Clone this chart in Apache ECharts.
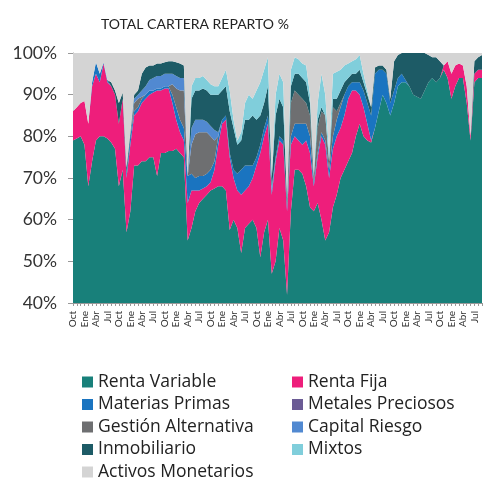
<!DOCTYPE html>
<html>
<head>
<meta charset="utf-8">
<title>TOTAL CARTERA REPARTO %</title>
<script src="https://cdn.jsdelivr.net/npm/echarts@6/dist/echarts.min.js"></script>
<style>
  html, body { margin: 0; padding: 0; background: #fff; }
  #chart { width: 483px; height: 480px; }
</style>
</head>
<body>
<div id="chart"></div>
<script>
// meses (etiqueta cada 3 meses: Oct, Ene, Abr, Jul)
var monthNames = ["Oct", "Nov", "Dic", "Ene", "Feb", "Mar", "Abr", "May", "Jun", "Jul", "Ago", "Sep"];
var years = 9;

var rentaVariable = [79, 79.5, 80, 78, 68, 74, 79, 80, 80, 79.5, 78.5, 77, 68, 72, 57, 62, 73, 73, 74, 74, 75, 75, 70.5, 76, 76, 76.5, 76.5, 77, 76, 75, 55, 58, 62, 64, 65, 66, 67, 67.5, 68, 68, 67, 57.5, 60, 58, 52, 58, 59, 60, 58, 51, 57, 60, 47, 50, 58, 55, 42, 62, 72, 72, 71, 68, 63, 62, 64, 60, 55, 57, 63, 66, 70, 72, 74, 76, 80, 83, 80, 79, 78.5, 82, 86, 90, 88, 85, 88, 92, 93, 93, 92, 90, 89.5, 89, 91, 93, 94, 93, 94, 96, 94, 89, 92, 94, 94, 88, 79, 93, 94, 94];
var rentaFija = [7, 7.5, 8, 10.5, 15, 18, 16, 13, 17.5, 13.5, 13.5, 13, 15, 17, 13, 16, 12, 13, 14, 15, 15, 15.5, 20.5, 15, 15.5, 15, 11.5, 7, 5, 4, 9, 9, 5, 3, 2.5, 2, 2, 4.5, 10, 15, 17, 17.5, 10, 9, 14, 9, 9, 10, 15, 25, 23, 23, 19, 24, 21, 23, 20, 16, 8, 7, 7, 11, 13, 6, 11, 20, 23, 13, 14, 14, 12, 13, 15, 15, 11, 7, 7, 4, 0.5, 0, 0, 0, 0, 0, 0, 0, 0, 0, 0, 0, 0, 0, 0, 0, 0, 0, 0, 1, 4, 6, 5, 3.5, 3, 4, 1, 2, 2, 2];
var materiasPrimas = [0, 0, 0, 0, 0, 1, 2.8, 2, 0.2, 0.5, 0, 0, 0, 0, 1, 2, 1, 1, 1, 1, 1, 0.5, 0.5, 0.5, 0.5, 0.5, 2, 3, 3, 3, 6.5, 4, 3, 3.5, 3, 3, 3, 2, 2, 1, 1, 1, 2, 4, 6, 6, 5, 3, 2, 2, 2, 2, 1, 1, 1, 1, 1, 2, 3, 4, 5, 4, 4, 1, 1, 1, 1, 2, 3, 4, 5, 5, 3, 2, 2, 3, 4, 5, 6, 13, 10, 6, 7, 3, 3, 2, 2, 0.5, 0, 0, 0, 0, 0, 0, 0, 0, 0, 0, 0, 0, 0, 0, 0, 0, 0, 0, 0, 0];
var metalesPreciosos = [0, 0, 0, 0, 0, 0, 0, 0, 0, 0, 0, 0, 0, 0, 0, 0, 0, 0, 0, 0, 0, 0, 0, 0, 0, 0, 0, 0, 0, 0, 0, 0, 0, 0, 0, 0, 0, 0, 0, 0, 0, 0, 0, 0, 0, 0, 0, 0, 0, 0, 0, 0, 0, 0, 0, 0, 0, 0, 0, 0, 0, 0, 0, 0, 0, 0, 0, 0, 0, 0, 0, 0, 0, 0, 0, 0, 0, 0, 0, 0, 0, 0, 0, 0, 0, 0, 0, 0, 0, 0, 0, 0, 0, 0, 0, 0, 0, 0, 0, 0, 0, 0, 0, 0, 0, 0, 0, 0];
var gestionAlternativa = [0, 0, 0, 0, 0, 0, 0, 0, 0, 0, 0, 0, 0, 0, 0, 0, 2, 2, 0.5, 0, 0, 0, 0, 0, 0, 0, 2.5, 4.5, 7, 9, 0, 7, 10.5, 10.5, 10.5, 10, 8, 5, 0, 0, 0, 0, 0, 0, 0, 0, 0, 0, 0, 0, 0, 0, 0, 0, 0, 0, 0, 8, 8, 7, 6, 5, 5, 1, 6, 5, 6, 2, 7, 2, 1, 0, 0, 0, 0, 0, 0, 0, 0, 0, 0, 0, 0, 0, 0, 0, 0, 0, 0, 0, 0, 0, 0, 0, 0, 0, 0, 0, 0, 0, 0, 0, 0, 0, 0, 0, 0, 0];
var capitalRiesgo = [0, 0, 0, 0, 0, 0, 0, 0, 0, 0, 0, 0, 0, 0, 0, 0, 1, 1, 1.5, 2, 2.5, 3, 3, 3, 3, 3, 2.5, 3, 3, 3, 0, 4, 3.5, 3, 3, 2.5, 2.5, 2.5, 1, 0, 0, 0, 0, 0, 0, 0, 0, 0, 0, 0, 0, 0, 1, 0, 0, 0, 0, 0, 0, 0, 0, 0, 0, 0, 0, 0, 0, 0, 0, 0, 0, 0, 0, 0, 0, 0, 0, 0, 0, 0, 0, 0, 0, 0, 0, 0, 0, 0, 0, 0, 0, 0, 0, 0, 0, 0, 0, 0, 0, 0, 0, 0, 0, 0, 0, 0, 0, 0];
var inmobiliario = [0, 0, 0, 0, 0, 0, 0, 0, 0, 0, 1, 1, 5, 1.5, 1.5, 1, 1, 1, 4, 4.5, 3.5, 3, 3, 3, 2.8, 3, 3, 3.3, 3.5, 3, 0, 7, 7, 7, 7.5, 7.5, 7.5, 8.5, 9, 7, 7, 10, 10, 7, 7, 11, 11, 12, 9, 7, 6, 7, 2, 10, 9, 8, 2, 4, 4, 5, 5, 5, 3, 0.5, 2, 1, 0, 0, 2, 3, 3, 3, 2, 2, 2, 3, 2, 2, 2, 1.5, 1, 1, 1, 1, 7, 5.5, 5, 6.5, 8, 10, 10.5, 11, 9, 6.5, 5, 6, 4, 0, 0, 0, 0, 0, 0, 0, 0, 3, 3, 3.5];
var mixtos = [0, 0, 0, 0, 0, 0, 0, 0, 0, 0, 0, 0, 0, 0, 0, 0, 0, 0, 0, 0, 0, 0, 0, 0, 0, 0, 0, 0, 0, 0, 0, 3, 3, 3, 3, 2.5, 2.5, 2, 2, 3, 4, 5, 2, 1, 2, 4, 6, 4, 7, 8, 8, 7, 1, 5, 6, 6, 1, 4, 4, 3.5, 3.5, 4, 2, 0.5, 4, 8, 5, 2, 6, 6.5, 5, 4, 3.5, 3, 3.5, 3.5, 2, 1, 0, 0, 0, 0, 0, 0, 0, 0, 0, 0, 0, 0, 0, 0, 0, 0, 0, 0, 0, 0, 0, 0, 0, 0, 0, 0, 0, 0, 0, 0];
var activosMonetarios = [14, 13, 12, 11.5, 17, 7, 2.2, 5, 2.3, 6.5, 7, 9, 12, 9.5, 27.5, 19, 10, 9, 5, 3.5, 3, 3, 2.5, 2.5, 2.2, 2, 2, 2.2, 2.5, 3, 29.5, 8, 6, 6, 5.5, 6.5, 7.5, 8, 8, 6, 4, 9, 16, 21, 19, 12, 10, 11, 9, 7, 4, 1, 29, 10, 5, 7, 34, 4, 1, 1.5, 2.5, 3, 10, 29, 12, 5, 10, 24, 5, 4.5, 4, 3, 2.5, 2, 1.5, 0.5, 5, 9, 13, 3.5, 3, 3, 4, 11, 2, 0.5, 0, 0, 0, 0, 0, 0, 0, 0.5, 1, 1, 2, 3, 2, 5, 3, 2.5, 3, 8, 20, 2, 1, 0.5];

var yTicks = [40, 50, 60, 70, 80, 90, 100];

var seriesNames = ["Renta Variable", "Renta Fija", "Materias Primas", "Metales Preciosos", "Gestión Alternativa", "Capital Riesgo", "Inmobiliario", "Mixtos", "Activos Monetarios"];
var seriesData = [rentaVariable, rentaFija, materiasPrimas, metalesPreciosos, gestionAlternativa, capitalRiesgo, inmobiliario, mixtos, activosMonetarios];
var colors = ["#18807a", "#ee1e7b", "#1a74c0", "#6b5b95", "#6e6f71", "#5189d1", "#1d5b66", "#80cedb", "#d4d4d4"];

var categories = [];
for (var y = 0; y < years; y++) {
  for (var m = 0; m < monthNames.length; m++) {
    categories.push(monthNames[m] + " " + y);
  }
}

var chart = echarts.init(document.getElementById("chart"), null, { renderer: "canvas" });
var font = "Lato, 'Open Sans', sans-serif";
var legendFont = "'Open Sans', Lato, sans-serif";

var series = seriesNames.map(function (name, i) {
  return {
    name: name,
    type: "line",
    stack: "total",
    data: seriesData[i],
    symbol: "none",
    color: colors[i],
    lineStyle: { width: 0 },
    areaStyle: { color: colors[i], opacity: 1 },
    emphasis: { disabled: true },
  };
});

var legendBase = {
  orient: "vertical",
  top: 373,
  height: 115,
  padding: 0,
  itemWidth: 11,
  itemHeight: 11,
  itemGap: 4.5,
  icon: "rect",
  textStyle: { fontSize: 17.5, color: "#222", fontFamily: legendFont },
};

var option = {
  animation: false,
  textStyle: { fontFamily: font },
  title: {
    text: "TOTAL CARTERA REPARTO %",
    left: 96,
    top: 12,
    textStyle: { fontSize: 14, fontWeight: "normal", color: "#222", fontFamily: font },
  },
  grid: { left: 73, right: 1, top: 53, bottom: 177 },
  xAxis: {
    type: "category",
    boundaryGap: false,
    data: categories,
    axisLine: { lineStyle: { color: "#999" } },
    axisTick: { interval: 0, length: 3, lineStyle: { color: "#999" } },
    axisLabel: {
      interval: 2,
      rotate: 90,
      fontSize: 10,
      color: "#333",
      margin: 8,
      formatter: function (v) { return v.split(" ")[0]; },
    },
  },
  yAxis: {
    type: "value",
    min: yTicks[0],
    max: yTicks[yTicks.length - 1],
    interval: 10,
    splitLine: { show: false },
    axisLine: { show: true, lineStyle: { color: "#999" } },
    axisTick: { show: true, length: 5, lineStyle: { color: "#999" } },
    axisLabel: { fontSize: 17.5, color: "#333", margin: 16, formatter: "{value}%" },
  },
  legend: [
    Object.assign({}, legendBase, {
      left: 82,
      data: ["Renta Variable", "Materias Primas", "Gestión Alternativa", "Inmobiliario", "Activos Monetarios"],
    }),
    Object.assign({}, legendBase, {
      left: 292,
      data: ["Renta Fija", "Metales Preciosos", "Capital Riesgo", "Mixtos"],
    }),
  ],
  series: series,
};

chart.setOption(option);
</script>
</body>
</html>
